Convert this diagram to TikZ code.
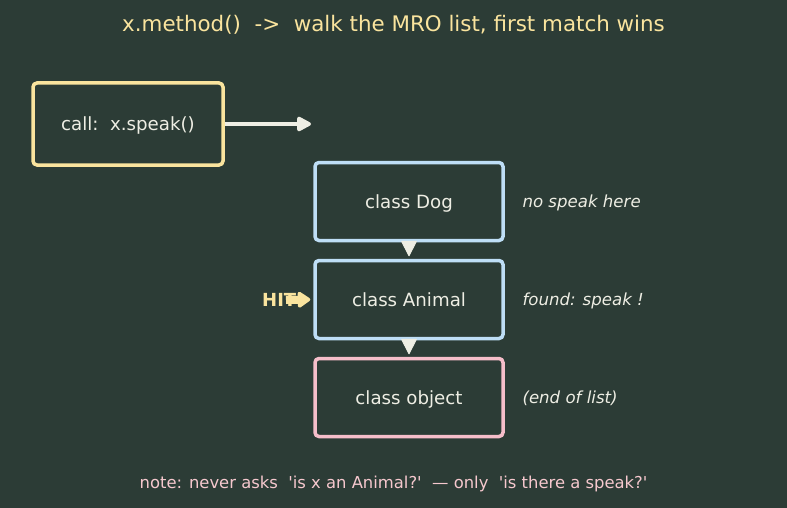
\documentclass[tikz,border=0pt]{standalone}
\usepackage{fontspec}
\setmainfont{DejaVu Sans}
\usetikzlibrary{arrows.meta}
\definecolor{bg}{RGB}{44,60,54}
\definecolor{ylw}{RGB}{250,228,158}
\definecolor{blu}{RGB}{190,222,246}
\definecolor{pnk}{RGB}{246,190,202}
\definecolor{txt}{RGB}{238,238,228}
\definecolor{notec}{RGB}{246,200,206}
\tikzset{
  every node/.style={text depth=0pt},
  box/.style={draw, line width=3.5pt, rounded corners=4pt, minimum width=188pt, minimum height=78pt, text=txt, font=\fontsize{18.2}{21}\selectfont, inner sep=0pt},
  side/.style={anchor=west, text=txt, font=\fontsize{16.6}{19}\selectfont\itshape},
  arr/.style={line width=3.5pt, -{Triangle[round,length=16pt,width=16pt]}},
  downarr/.style={line width=1pt, -{Triangle[round,length=16pt,width=16pt]}},
}
\newcommand{\sq}{\textquotesingle}
\begin{document}
\begin{tikzpicture}[x=1pt,y=-1pt]
\fill[bg] (0,0) rectangle (787,508);
\useasboundingbox (0,0) rectangle (787,508);
\node[text=ylw, font=\fontsize{21.4}{24}\selectfont] (title) at (393.5,23) {x.method()\ \ ->\ \ walk the MRO list, first match wins};
\node[box, draw=ylw, minimum width=190pt, minimum height=82pt] (call) at (128,124) {call:\ \ x.speak()};
\coordinate (callend) at (311,124);
\draw[arr, txt] (call.east) -- (callend);
\node[box, draw=blu] (dog) at (409,201.5) {class Dog};
\node[box, draw=blu] (animal) at (409,299.5) {class Animal};
\node[box, draw=pnk] (object) at (409,397.5) {class object};
\draw[downarr, txt] (dog.south) -- ([yshift=2.5pt]animal.north);
\draw[downarr, txt] (animal.south) -- ([yshift=2.5pt]object.north);
\node[side] (l1) at (519,201) {no speak here};
\node[side] (l2) at (519,299) {found: speak !};
\node[side] (l3) at (519,397) {(end of list)};
\node[anchor=west, text=ylw, font=\fontsize{18}{20}\selectfont\bfseries, inner sep=0pt] (hit) at (262,300) {HIT};
\coordinate (hitstart) at (286,300);
\draw[line width=8pt, ylw, -{Triangle[round,length=14pt,width=18pt]}] (hitstart) -- ([xshift=-3pt]animal.west);
\node[text=notec, font=\fontsize{16.4}{19}\selectfont] (note) at (393.5,482) {note: never asks\ \ \sq is x an Animal?\sq\ \ — only\ \ \sq is there a speak?\sq};
\end{tikzpicture}
\end{document}
